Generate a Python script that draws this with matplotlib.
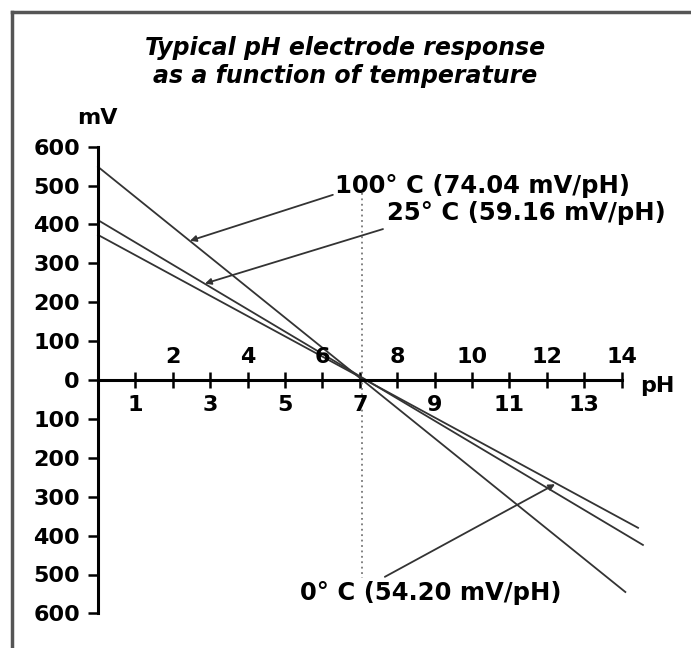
import matplotlib.pyplot as plt
import numpy as np

# response lines (pH, mV at both ends)
temps = ['100° C (74.04 mV/pH)', '25° C (59.16 mV/pH)', '0° C (54.20 mV/pH)']
ph_start = [0, 0, 0]
mv_start = [548, 411, 373]
ph_end = [14.1, 14.57, 14.44]
mv_end = [-545, -424, -380]

# label / arrow positions (pH, mV)
label_ph = [6.34, 7.73, 5.40]
label_mv = [499, 429, -548]
tail_ph = [6.28, 7.62, 7.67]
tail_mv = [476, 388, -506]
tip_ph = [2.46, 2.86, 12.22]
tip_mv = [358, 248, -268]

y_ticks = np.arange(-600, 700, 100)
x_ticks = np.arange(1, 15)

W, H = 691, 648
fig = plt.figure(figsize=(W / 100, H / 100), dpi=100)
# axes covering whole figure, scaled so pH 0 / 0 mV sits where it is in the source
px_per_ph, px_per_mv = 37.4, 0.389
x0, y0 = 98, 380
ax = fig.add_axes([0, 0, 1, 1])
ax.set_xlim(-x0 / px_per_ph, (W - x0) / px_per_ph)
ax.set_ylim((y0 - H) / px_per_mv, y0 / px_per_mv)
ax.patch.set_alpha(0)

bold = dict(family=['DejaVu Sans'], weight='bold', size=16)
big = dict(family=['DejaVu Sans'], weight='bold', size=17.5)

for s in ['top', 'right']:
    ax.spines[s].set_visible(False)
ax.spines['left'].set_position(('data', 0))
ax.spines['bottom'].set_position(('data', 0))
ax.spines['left'].set_bounds(-600, 600)
ax.spines['bottom'].set_bounds(0, 14)
ax.spines['left'].set_linewidth(2.2)
ax.spines['bottom'].set_linewidth(2.2)

ax.set_yticks(y_ticks)
ax.set_yticklabels([str(abs(v)) for v in y_ticks], fontdict=bold)
ax.tick_params(axis='y', direction='out', length=7, width=1.8, pad=6)
ax.set_xticks(x_ticks)
ax.set_xticklabels([])
ax.tick_params(axis='x', direction='inout', length=11, width=1.8)

for p in x_ticks:
    if p % 2 == 0:
        ax.text(p, 60, str(p), ha='center', va='center', **bold)
    else:
        ax.text(p, -64, str(p), ha='center', va='center', **bold)

ax.text(14.95, -15, 'pH', ha='center', va='center', **bold)
ax.text(-0.03, 673, 'mV', ha='center', va='center', **bold)

# pH 7 reference
ax.plot([7.06, 7.06], [480, -510], color='#777777', lw=1.3, ls=(0, (1, 2)))

for i in range(len(temps)):
    ax.plot([ph_start[i], ph_end[i]], [mv_start[i], mv_end[i]],
            color='#333333', lw=1.3)
    ax.annotate('', xy=(tip_ph[i], tip_mv[i]), xytext=(tail_ph[i], tail_mv[i]),
                arrowprops=dict(arrowstyle='-|>', color='#333333', lw=1.3,
                                mutation_scale=9, shrinkA=0, shrinkB=0))
    ax.text(label_ph[i], label_mv[i], temps[i], ha='left', va='center', **big)

title_font = dict(family=['DejaVu Sans'], weight='bold', style='italic', size=17)
fig.text(0.5, 1 - 48 / H, 'Typical pH electrode response', ha='center', va='center',
         **title_font)
fig.text(0.5, 1 - 76 / H, 'as a function of temperature', ha='center', va='center',
         **title_font)

# frame, only top and left edges are visible in the source
fig.add_artist(plt.Line2D([12 / W, 1], [1 - 12 / H, 1 - 12 / H], color='#555555', lw=2.5))
fig.add_artist(plt.Line2D([12 / W, 12 / W], [0, 1 - 12 / H], color='#555555', lw=2.5))

plt.savefig('out.png', dpi=100)
